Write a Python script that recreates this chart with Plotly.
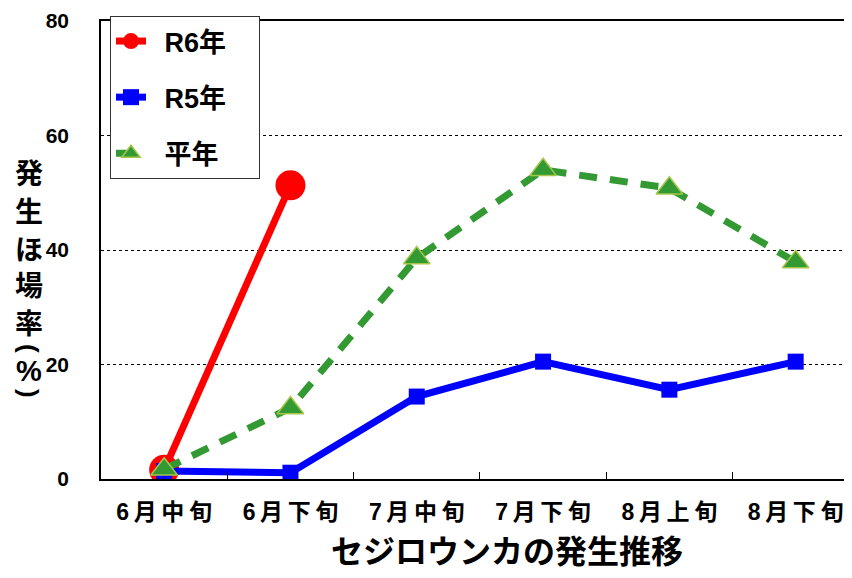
import plotly.graph_objects as go

categories = ["6月中旬", "6月下旬", "7月中旬", "7月下旬", "8月上旬", "8月下旬"]
tick_labels = ["6\u2009月\u2009中\u2009旬", "6\u2009月\u2009下\u2009旬", "7\u2009月\u2009中\u2009旬",
               "7\u2009月\u2009下\u2009旬", "8\u2009月\u2009上\u2009旬", "8\u2009月\u2009下\u2009旬"]
r6_values = [1.6, 51.3]
r5_values = [1.4, 1.1, 14.4, 20.5, 15.6, 20.5]
avg_values = [1.7, 12.4, 38.6, 54.0, 50.8, 37.9]
y_ticks = [0, 20, 40, 60, 80]
y_title_chars = ["発", "生", "ほ", "場", "率", "(", "%", ")"]
y_title_pos = [172, 210, 248, 284, 322, 348, 371, 393]

FONT = "Liberation Sans, Noto Sans CJK JP, sans-serif"
OFF = 8  # page body margin offset
L, T, B = 101 - OFF, 21 - OFF, 99
W, H = 852 - OFF, 578 - OFF
PH = H - T - B
PW = W - L

def px_y(py):
    return (H - B - (py - OFF)) / PH

def px_x(px):
    return ((px - OFF) - L) / PW

fig = go.Figure()
fig.add_trace(go.Scatter(
    x=categories[:len(r6_values)], y=r6_values, name="\u2002R6年\u3000", mode="lines+markers",
    line=dict(color="#FF0000", width=7),
    marker=dict(symbol="circle", size=30, color="#FF0000"),
    legendgroup="a",
))
fig.add_trace(go.Scatter(
    x=categories, y=r5_values, name="\u2002R5年\u3000", mode="lines+markers",
    line=dict(color="#0000FF", width=7),
    marker=dict(symbol="square", size=16, color="#0000FF"),
    legendgroup="b",
))
fig.add_trace(go.Scatter(
    x=categories, y=avg_values, name="\u2002平年\u3000", mode="lines+markers",
    line=dict(color="#339933", width=7, dash="18px,13px"),
    marker=dict(symbol="triangle-up", size=23, color="#339933",
                line=dict(color="#A5C64A", width=1.5)),
    legendgroup="c",
))

annotations = []
for ch, py in zip(y_title_chars, y_title_pos):
    is_paren = ch in "()"
    cjk = ch not in "()%"
    ann = dict(
        text=ch, x=px_x(29), y=px_y(py), xref="paper", yref="paper", showarrow=False,
        xanchor="center", yanchor="middle", textangle=90 if is_paren else 0,
        font=dict(family="Noto Sans CJK JP" if cjk else FONT,
                  size=28 if cjk else (26 if is_paren else 29),
                  color="black", weight="bold"),
    )
    if cjk:
        ann["height"] = 30
    annotations.append(ann)
annotations.append(dict(
    text="セジロウンカの発生推移", x=px_x(507), y=px_y(549),
    xref="paper", yref="paper", showarrow=False, xanchor="center", yanchor="middle",
    font=dict(family="Noto Sans CJK JP", size=32, color="black", weight="bold"),
))

fig.update_layout(
    width=W, height=H,
    margin=dict(l=L, r=0, t=T, b=B, autoexpand=False),
    paper_bgcolor="white", plot_bgcolor="white",
    font=dict(family=FONT, color="black", size=18, weight="bold"),
    showlegend=True,
    legend=dict(
        x=px_x(110), y=px_y(16), xanchor="left", yanchor="top",
        bgcolor="white", bordercolor="#333333", borderwidth=1,
        font=dict(family=FONT, size=27, color="black", weight="bold"),
        tracegroupgap=18, traceorder="grouped",
    ),
    xaxis=dict(
        type="category", categoryorder="array", categoryarray=categories,
        range=[-0.5, 5.446], automargin=False,
        tickmode="array", tickvals=categories, ticktext=tick_labels,
        tickson="boundaries", ticks="inside", ticklen=7, tickcolor="black",
        showline=True, linecolor="black", linewidth=1.5, mirror=True,
        showgrid=False,
        tickfont=dict(family=FONT, size=23, color="black", weight="bold"),
        ticklabelstandoff=12,
    ),
    yaxis=dict(
        range=[0, 80], tickmode="array", tickvals=y_ticks, automargin=False,
        showline=True, linecolor="black", linewidth=1.5,
        showgrid=True, gridcolor="black", griddash="dot", gridwidth=0.8,
        ticks="", zeroline=False,
        tickfont=dict(family=FONT, size=21, color="black", weight="bold"),
        ticklabelstandoff=26,
    ),
    annotations=annotations,
)

fig.write_html("out.html")
